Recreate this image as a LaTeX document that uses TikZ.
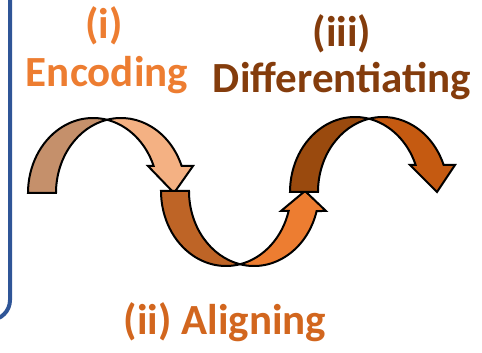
\documentclass[tikz,border=0pt]{standalone}
\usepackage{fontspec}
\setmainfont{Carlito}
\definecolor{EncTail}{RGB}{197,144,107}
\definecolor{EncHead}{RGB}{244,177,131}
\definecolor{AlnTail}{RGB}{190,100,38}
\definecolor{AlnHead}{RGB}{237,125,49}
\definecolor{DifTail}{RGB}{154,74,14}
\definecolor{DifHead}{RGB}{197,90,17}
\definecolor{EncText}{RGB}{237,125,49}
\definecolor{AlnText}{RGB}{210,102,30}
\definecolor{DifText}{RGB}{132,60,12}
\definecolor{FrameBlue}{RGB}{47,85,151}

\begin{document}
\begin{tikzpicture}[x=1pt,y=1pt,
		ribbon/.style={draw=black,line width=2pt},
		stagetext/.style={font=\fontsize{43}{48}\selectfont\bfseries,inner sep=0pt,anchor=base}]
	\useasboundingbox (0,0) rectangle (482,353);
	\clip (0,0) rectangle (482,353);
	
	% left edge of the frame
	\draw[FrameBlue,line width=4pt] (10,360)--(10,53) arc[start angle=0,end angle=-90,radius=20];
	
	% (i) arch, two faces
	\begin{scope}[shift={(28,160)}]
		\filldraw[ribbon,fill=EncTail] (0,0) arc[start angle=180,end angle=77.56,x radius=65,y radius=75]
			arc[start angle=102.44,end angle=180,x radius=65,y radius=75]--cycle;
		\filldraw[ribbon,fill=EncHead] (79,73.24) arc[start angle=102.44,end angle=21.1,x radius=65,y radius=75]
			--(165,27)--(146,0)--(120,27)--(125.64,27)
			arc[start angle=21.1,end angle=77.56,x radius=65,y radius=75]--cycle;
	\end{scope}
	
	% (ii) valley, the same ribbon turned over
	\begin{scope}[shift={(161,162)},yscale=-1]
		\filldraw[ribbon,fill=AlnTail] (0,0) arc[start angle=180,end angle=77.56,x radius=65,y radius=75]
			arc[start angle=102.44,end angle=180,x radius=65,y radius=75]--cycle;
		\filldraw[ribbon,fill=AlnHead] (79,73.24) arc[start angle=102.44,end angle=15.47,x radius=65,y radius=75]
			--(165,20)--(144,0)--(120,20)--(127.65,20)
			arc[start angle=15.47,end angle=77.56,x radius=65,y radius=75]--cycle;
	\end{scope}
	
	% (iii) arch
	\begin{scope}[shift={(290,161)}]
		\filldraw[ribbon,fill=DifTail] (0,0) arc[start angle=180,end angle=77.56,x radius=65,y radius=75]
			arc[start angle=102.44,end angle=180,x radius=65,y radius=75]--cycle;
		\filldraw[ribbon,fill=DifHead] (79,73.24) arc[start angle=102.44,end angle=21.1,x radius=65,y radius=75]
			--(165,27)--(147,0)--(120,27)--(125.64,27)
			arc[start angle=21.1,end angle=77.56,x radius=65,y radius=75]--cycle;
	\end{scope}
	
	% labels
	\node[stagetext,text=EncText] (encnum) at (104,314) {(i)};
	\node[stagetext,text=EncText] (enc) at (107,266) {Encoding};
	\node[stagetext,text=DifText] (difnum) at (342,306) {(iii)};
	\node[stagetext,text=DifText] (dif) at (342,260) {Differentiating};
	\node[stagetext,text=AlnText] (aln) at (225,18) {(ii) Aligning};
\end{tikzpicture}
\end{document}
